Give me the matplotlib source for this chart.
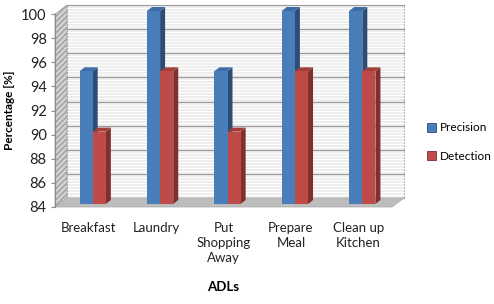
import numpy as np
import matplotlib.pyplot as plt
from matplotlib.patches import Polygon, Rectangle

# data
categories = ['Breakfast', 'Laundry', 'Put\nShopping\nAway', 'Prepare\nMeal', 'Clean up\nKitchen']
precision = [95, 100, 95, 100, 100]
detection = [90, 95, 90, 95, 95]

plt.rcParams['font.family'] = ['Lato', 'DejaVu Sans']
plt.rcParams['hatch.color'] = '#a8a8a8'

fig = plt.figure(figsize=(4.94, 3.04), dpi=100)
ax = fig.add_axes([55 / 494, 97 / 304, 337 / 494, 193 / 304])
ax.set_xlim(-0.5, 4.5)
ax.set_ylim(84, 100)

# depth offsets in data units (wall depth, bar position, bar thickness)
px_x = 5 / 337
px_y = 16 / 193
wdx, wdy = 12 * px_x, 9 * px_y
bdx, bdy = 4 * px_x, 3 * px_y
tdx, tdy = 5 * px_x, 4 * px_y
x0, x1, y0, y1 = -0.5, 4.5, 84, 100

# back wall with stripes
ax.add_patch(Rectangle((x0 + wdx, y0 + wdy), x1 - x0, y1 - y0, facecolor='#ececec',
                       edgecolor='#a0a0a0', lw=0.6, clip_on=False, zorder=0))
for yy in np.arange(84.25, 100, 0.25):
    ax.plot([x0 + wdx, x1 + wdx], [yy + wdy, yy + wdy], color='white', lw=0.9,
            clip_on=False, zorder=0.5)
for yy in range(84, 101, 2):
    ax.plot([x0 + wdx, x1 + wdx], [yy + wdy, yy + wdy], color='#9a9a9a', lw=0.8,
            clip_on=False, zorder=0.6)

# left side wall
ax.add_patch(Polygon([(x0, y0), (x0 + wdx, y0 + wdy), (x0 + wdx, y1 + wdy), (x0, y1)],
                     closed=True, facecolor='#d2d2d2', edgecolor='#a0a0a0', lw=0.5,
                     hatch='//////', clip_on=False, zorder=0.7))

# floor
ax.add_patch(Polygon([(x0, y0), (x1, y0), (x1 + wdx, y0 + wdy), (x0 + wdx, y0 + wdy)],
                     closed=True, facecolor='#bdbdbd', edgecolor='#a8a8a8', lw=0.5,
                     clip_on=False, zorder=0.8))

w = 0.195
x = np.arange(len(categories))
series = [(precision, -w, '#4a7ebb', '#3e6ca6', '#2c4d75', 'Precision'),
          (detection, 0.0, '#be4b48', '#a33e3b', '#7f2f2d', 'Detection')]
handles = []
z = 2
for i in range(len(categories)):
    for vals, off, front, top, side, name in series:
        left = x[i] + off + bdx
        v = vals[i]
        ax.bar(left, v - y0, bottom=y0 + bdy, width=w, align='edge', color=front,
               zorder=z + 0.2, clip_on=False)
        ax.add_patch(Polygon([(left + w, y0 + bdy), (left + w + tdx, y0 + bdy + tdy),
                              (left + w + tdx, v + bdy + tdy), (left + w, v + bdy)],
                             closed=True, facecolor=side, edgecolor='none', zorder=z + 0.1,
                             clip_on=False))
        ax.add_patch(Polygon([(left, v + bdy), (left + w, v + bdy),
                              (left + w + tdx, v + bdy + tdy), (left + tdx, v + bdy + tdy)],
                             closed=True, facecolor=top, edgecolor='none', zorder=z + 0.1,
                             clip_on=False))
        if i == 0:
            handles.append(Rectangle((0, 0), 1, 1, facecolor=front, edgecolor=side, lw=0.6,
                                     label=name))
        z += 1

for s in ['top', 'right', 'bottom']:
    ax.spines[s].set_visible(False)
ax.spines['left'].set_color('#8c8c8c')
ax.spines['left'].set_linewidth(0.8)
ax.set_yticks(range(84, 101, 2))
ax.tick_params(axis='y', labelsize=10.5, length=3, color='#8c8c8c', labelcolor='#222222', pad=3)
ax.set_xticks(x)
ax.set_xticklabels(categories, fontsize=9.5, color='#222222', linespacing=1.3)
ax.tick_params(axis='x', length=0, pad=11)
ax.set_xlabel('ADLs', fontsize=9.5, fontweight='bold', labelpad=12)
ax.set_ylabel('Percentage [%]', fontsize=8.5, fontweight='bold')
ax.yaxis.set_label_coords(-0.12, 0.5)
ax.patch.set_visible(False)

fig.legend(handles=handles, loc='center left', bbox_to_anchor=(427 / 494, 1 - 142 / 304),
           frameon=False, handlelength=0.8, handleheight=0.8, handletextpad=0.25,
           labelspacing=1.45, fontsize=8.5, borderpad=0, borderaxespad=0)

fig.savefig('out.png', dpi=100)
